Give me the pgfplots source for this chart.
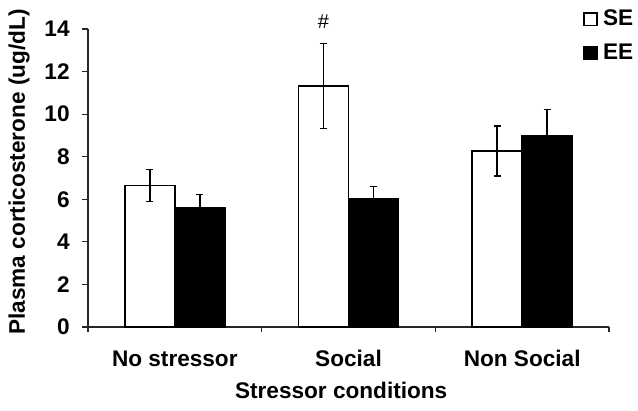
\documentclass[border=0pt]{standalone}
\usepackage{fontspec}
\setmainfont{Liberation Sans}
\usepackage{pgfplots}
\pgfplotsset{compat=1.18}
\begin{document}
\begin{tikzpicture}
\begin{axis}[
  at={(0,0)}, anchor=south west,
  scale only axis, width=260.5bp, height=149bp,
  xmin=-0.5, xmax=2.5, ymin=0, ymax=14,
  clip=false,
  ybar=0pt, bar width=0.288,
  axis x line*=bottom, axis y line*=left,
  axis line style={-, black!85, line width=0.6bp},
  tick style={black!85, line width=0.6bp},
  tick align=outside,
  major tick length=3bp, minor tick length=2.5bp,
  xtick={0,1,2}, xticklabels={No stressor, Social, Non Social},
  major x tick style={draw=none},
  minor xtick={-0.5,0.5,1.5,2.5},
  ytick={0,2,...,14},
  /pgf/number format/assume math mode=true,
  tick label style={font=\fontsize{11.3bp}{13bp}\selectfont\bfseries},
  xticklabel style={anchor=base, inner sep=0pt, yshift=-16.5bp},
  yticklabel style={anchor=east, inner sep=0pt, xshift=-6bp},
  xlabel={Stressor conditions},
  ylabel={Plasma corticosterone (ug/dL)},
  every axis x label/.style={at={(rel axis cs:0.486,0)}, yshift=-35.5bp, anchor=base, font=\fontsize{11.3bp}{13bp}\selectfont\bfseries},
  every axis y label/.style={at={(rel axis cs:0,0.52)}, xshift=-34.5bp, rotate=90, anchor=center, font=\fontsize{11.3bp}{13bp}\selectfont\bfseries},
  legend style={at={(rel axis cs:0.95,1.072)}, anchor=north west, draw=none, fill=none, inner sep=0pt, row sep=5.5bp,
    font=\fontsize{11.3bp}{13bp}\selectfont\bfseries, nodes={inner sep=1bp}},
  error bars/error bar style={black, line width=0.75bp},
  error bars/error mark options={black, mark size=1.8bp, line width=0.75bp, rotate=90},
]
\addplot+[fill=white, draw=black, line width=0.7bp,
  legend image code/.code={\draw[fill=white, draw=black, line width=0.7bp] (0bp,-3.2bp) rectangle (6.5bp,3.2bp); \path (8.2bp,0bp);},
  error bars/.cd, y dir=both, y explicit]
  coordinates {(0,6.65) +- (0,0.76) (1,11.33) +- (0,2.0) (2,8.27) +- (0,1.18)};
\addplot+[fill=black, draw=black, line width=0.7bp,
  legend image code/.code={\draw[fill=black, draw=black, line width=0.7bp] (0bp,-3.2bp) rectangle (6.5bp,3.2bp); \path (8.2bp,0bp);},
  error bars/.cd, y dir=plus, y explicit]
  coordinates {(0,5.60) +- (0,0.63) (1,6.04) +- (0,0.55) (2,8.97) +- (0,1.25)};
\legend{SE, EE}
\node[font=\fontsize{10bp}{12bp}\selectfont] at (axis cs:0.856,14.33) {\#};
\end{axis}
\pgfresetboundingbox
\path (-44bp,-42bp) rectangle (275bp,163.5bp);
\end{tikzpicture}
\end{document}
